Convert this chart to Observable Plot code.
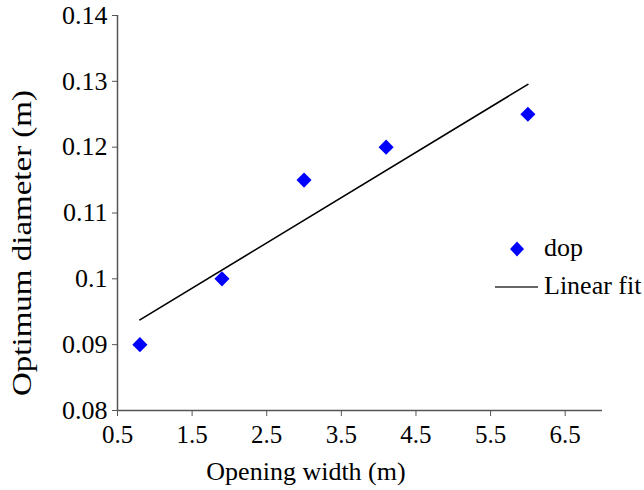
<!DOCTYPE html>
<html><head><meta charset="utf-8">
<script src="https://cdn.jsdelivr.net/npm/d3@7"></script>
<script src="https://cdn.jsdelivr.net/npm/@observablehq/plot@0.6"></script>
<style>
body{margin:0;background:#fff}
#wrap{position:relative;width:644px;height:490px;overflow:hidden;font-family:"Liberation Serif";color:#000}
.leg{position:absolute;font-size:26px;line-height:26px;white-space:nowrap}
</style>
</head><body><div id="wrap"></div>
<script>
const openingWidth = [0.8, 1.9, 3.0, 4.1, 6.0];
const optimumDiameter = [0.09, 0.10, 0.115, 0.12, 0.125];
const xTicks = [0.5, 1.5, 2.5, 3.5, 4.5, 5.5, 6.5];
const yTicks = [0.08, 0.09, 0.1, 0.11, 0.12, 0.13, 0.14];
const xDomain = [0.5, 7];
const yDomain = [0.08, 0.14];
const xLabel = "Opening width (m)";
const yLabel = "Optimum diameter (m)";
const seriesName = "dop";
const fitName = "Linear fit";

const data = openingWidth.map((x, i) => ({x, y: optimumDiameter[i]}));
const axisColor = "#555";
const font = "Liberation Serif";

const chart = Plot.plot({
  width: 644, height: 490,
  marginLeft: 117, marginRight: 42, marginTop: 15, marginBottom: 80,
  style: {fontFamily: font, background: "#fff", overflow: "visible"},
  x: {domain: xDomain},
  y: {domain: yDomain},
  marks: [
    Plot.ruleX([xDomain[0]], {stroke: axisColor, strokeWidth: 1.5}),
    Plot.ruleY([yDomain[0]], {stroke: axisColor, strokeWidth: 1.5}),
    Plot.axisX({ticks: xTicks, tickFormat: d => String(d), tickSize: 6, tickPadding: 9, fontSize: 25, stroke: axisColor, fill: "#000", label: null}),
    Plot.axisY({ticks: yTicks, tickFormat: d => String(d), tickSize: 5, tickPadding: 5, fontSize: 26, stroke: axisColor, fill: "#000", label: null}),
    Plot.linearRegressionY(data, {x: "x", y: "y", ci: 0, stroke: "#000", strokeWidth: 1.6}),
    Plot.dot(data, {x: "x", y: "y", symbol: "diamond2", r: 6.8, fill: "#0000ff", stroke: "none"})
  ]
});

const svg = d3.select(chart);
svg.append("text")
  .attr("x", 306).attr("y", 480)
  .attr("text-anchor", "middle")
  .attr("font-size", 26)
  .text(xLabel);
svg.append("text")
  .attr("transform", "translate(31,243) rotate(-90)")
  .attr("text-anchor", "middle")
  .attr("font-size", 27)
  .attr("textLength", 306).attr("lengthAdjust", "spacingAndGlyphs")
  .text(yLabel);
svg.style("font-family", font);
svg.selectAll("g, text").attr("font-family", font).style("font-family", font);

const wrap = document.getElementById("wrap");
wrap.appendChild(chart);

const leg1 = document.createElement("div");
leg1.className = "leg";
leg1.style.left = "508px"; leg1.style.top = "236px";
leg1.innerHTML = '<svg width="18" height="26" style="vertical-align:top"><path d="M9,5.5 L16,13 L9,20.5 L2,13 Z" fill="#0000ff"/></svg><span style="margin-left:18px;position:relative;top:-1px">' + seriesName + '</span>';
wrap.appendChild(leg1);

const leg2 = document.createElement("div");
leg2.className = "leg";
leg2.style.left = "495px"; leg2.style.top = "274px";
leg2.innerHTML = '<svg width="44" height="26" style="vertical-align:top"><line x1="0" x2="43" y1="13" y2="13" stroke="#333" stroke-width="1.6"/></svg><span style="margin-left:5px;position:relative;top:-1px">' + fitName + '</span>';
wrap.appendChild(leg2);
</script>
</body></html>
